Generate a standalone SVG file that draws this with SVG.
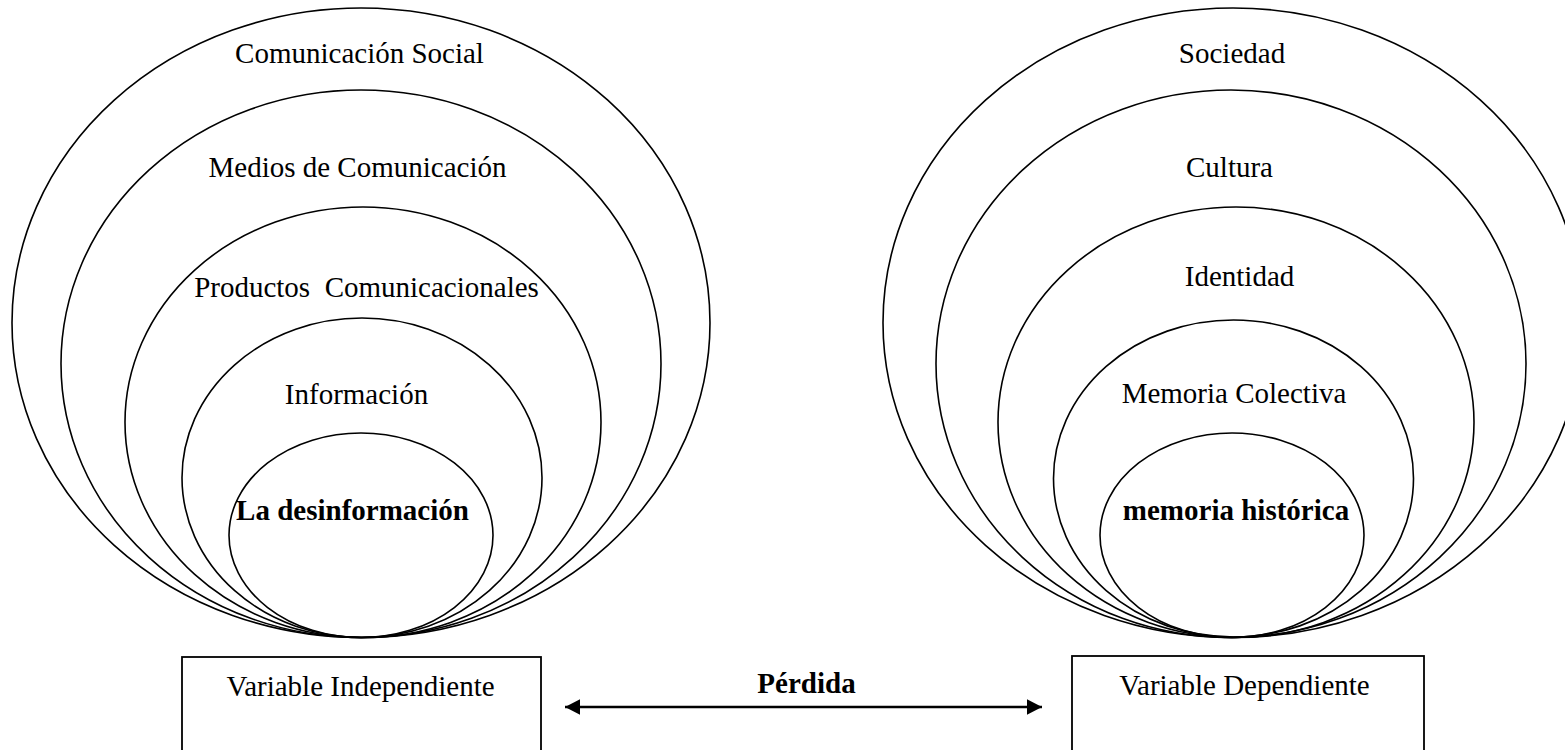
<svg xmlns="http://www.w3.org/2000/svg" width="1565" height="750" viewBox="0 0 1565 750">
  <style>
    .ring { fill: none; stroke: #000; stroke-width: 1.6; }
    .box { fill: #fff; stroke: #000; stroke-width: 1.8; }
    .lbl { font-family: "Liberation Serif", "Times New Roman", serif; font-size: 29px; fill: #000; text-anchor: middle; white-space: pre; }
    .b { font-weight: bold; }
    .conn { stroke: #000; stroke-width: 2.6; fill: none; }
  </style>
  <defs>
    <marker id="arrow" markerUnits="userSpaceOnUse" markerWidth="16" markerHeight="16" refX="15" refY="7.75" orient="auto-start-reverse">
      <path d="M0,0 L15,7.75 L0,15.5 z" fill="#000"/>
    </marker>
  </defs>
  <rect width="1565" height="750" fill="#fff"/>

  <g id="left-set">
    <g id="comunicacion-social">
      <ellipse class="ring" cx="361" cy="322.75" rx="349" ry="314.75"/>
      <text class="lbl" x="359.5" y="63">Comunicación Social</text>
    </g>
    <g id="medios-de-comunicacion">
      <ellipse class="ring" cx="361" cy="363.75" rx="300" ry="273.75"/>
      <text class="lbl" x="357.5" y="177">Medios de Comunicación</text>
    </g>
    <g id="productos-comunicacionales">
      <ellipse class="ring" cx="363" cy="422.25" rx="238" ry="215.25"/>
      <text class="lbl" x="366.5" y="297">Productos  Comunicacionales</text>
    </g>
    <g id="informacion">
      <ellipse class="ring" cx="362" cy="477.75" rx="180" ry="159.75"/>
      <text class="lbl" x="356.5" y="404">Información</text>
    </g>
    <g id="la-desinformacion">
      <ellipse class="ring" cx="361" cy="535.25" rx="132" ry="102.25"/>
      <text class="lbl b" x="352.5" y="520">La desinformación</text>
    </g>
  </g>

  <g id="right-set">
    <g id="sociedad">
      <ellipse class="ring" cx="1233" cy="322.75" rx="350" ry="314.75"/>
      <text class="lbl" x="1232" y="63">Sociedad</text>
    </g>
    <g id="cultura">
      <ellipse class="ring" cx="1231" cy="363.75" rx="295" ry="273.75"/>
      <text class="lbl" x="1229.5" y="177">Cultura</text>
    </g>
    <g id="identidad">
      <ellipse class="ring" cx="1236" cy="422.25" rx="238" ry="215.25"/>
      <text class="lbl" x="1239.5" y="286">Identidad</text>
    </g>
    <g id="memoria-colectiva">
      <ellipse class="ring" cx="1233.5" cy="478.5" rx="180" ry="158.5"/>
      <text class="lbl" x="1234" y="403">Memoria Colectiva</text>
    </g>
    <g id="memoria-historica">
      <ellipse class="ring" cx="1232" cy="535.25" rx="132" ry="102.25"/>
      <text class="lbl b" x="1236" y="520">memoria histórica</text>
    </g>
  </g>

  <g id="variable-independiente">
    <rect class="box" x="182" y="657" width="359" height="110"/>
    <text class="lbl" x="360.5" y="696">Variable Independiente</text>
  </g>
  <g id="variable-dependiente">
    <rect class="box" x="1072" y="656" width="352" height="110"/>
    <text class="lbl" x="1244.5" y="695">Variable Dependiente</text>
  </g>

  <g id="connectors">
    <line class="conn" x1="565" y1="707" x2="1042" y2="707" marker-start="url(#arrow)" marker-end="url(#arrow)"/>
    <text class="lbl b" x="806.5" y="693">Pérdida</text>
  </g>
</svg>
